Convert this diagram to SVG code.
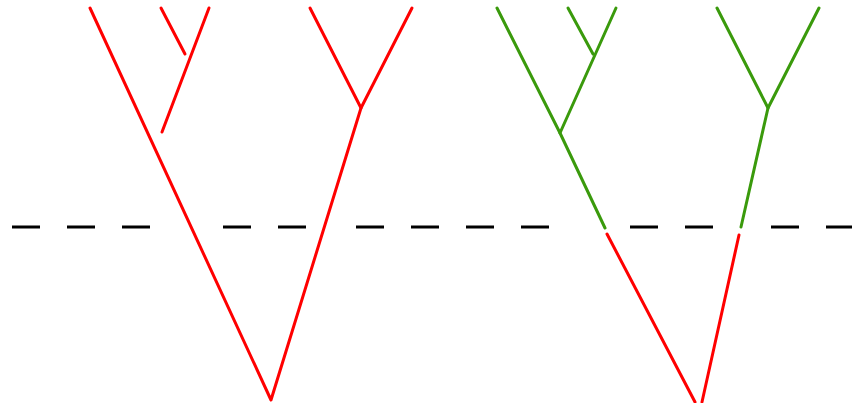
<svg xmlns="http://www.w3.org/2000/svg" width="852" height="403" viewBox="0 0 852 403">
<style>
.red{stroke:#ff0000;stroke-width:3;fill:none;stroke-linecap:round;stroke-linejoin:round}
.green{stroke:#3a9a0c;stroke-width:3;fill:none;stroke-linecap:round;stroke-linejoin:round}
.dash{stroke:#000;stroke-width:3;fill:none}
</style>
<rect width="852" height="403" fill="#fff"/>
<g id="baseline">
<path class="dash" d="M12 227H40M67 227H95M122 227H150M223 227H251M278 227H306M356 227H384M411 227H439M466 227H494M521 227H549M630 227H658M685 227H713M771 227H799M826 227H852"/>
</g>
<g id="tree-left">
<path class="red" d="M90 8L271 400L361 108"/>
<path class="red" d="M310 8L361 108L412 8"/>
<path class="red" d="M209 8L162 132"/>
<path class="red" d="M161 8L185 54"/>
</g>
<g id="tree-right">
<path class="green" d="M497 8L560 133L605 228"/>
<path class="green" d="M568 8L593 54"/>
<path class="green" d="M616 8L560 133"/>
<path class="green" d="M717 8L768 108L819 8"/>
<path class="green" d="M768 108L741 227"/>
<path class="red" d="M607 234L695 402"/>
<path class="red" d="M739 235L702 402"/>
</g>
</svg>
